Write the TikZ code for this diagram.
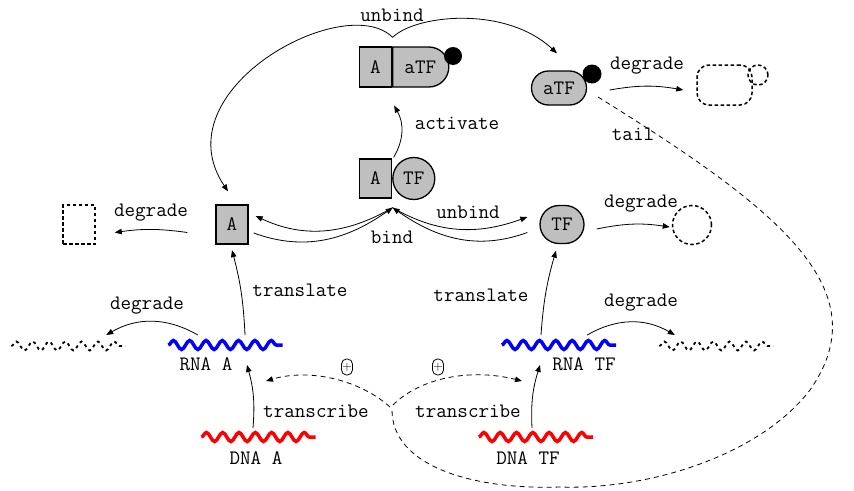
\documentclass[tikz,border=0pt]{standalone}
\usetikzlibrary{shapes.misc,shapes.geometric,decorations.pathmorphing,arrows.meta,calc}
\begin{document}
\begin{tikzpicture}[x=1pt,y=-1pt,
  font={\fontsize{20.5}{24}\selectfont\ttfamily},
  prot/.style={draw,line width=1.3pt,fill=black!25,inner sep=0pt},
  pbox/.style={prot,rectangle,minimum width=32pt,minimum height=40pt},
  rbox/.style={prot,rounded rectangle,minimum width=55pt,minimum height=34pt},
  dotn/.style={circle,fill=black,draw=none,inner sep=0pt,minimum size=19pt},
  deg/.style={draw,dash pattern=on 3.5pt off 2.5pt,line width=1.5pt,inner sep=0pt},
  wave/.style={minimum width=114pt,minimum height=10pt,inner sep=0pt},
  wv/.style={decorate,decoration={snake,segment length=16.3pt,amplitude=4.5pt}},
  rna/.style={wv,draw=blue,line width=3.5pt},
  dna/.style={wv,draw=red,line width=3.5pt},
  drna/.style={wv,draw=black,line width=1.8pt,dash pattern=on 3pt off 3.5pt},
  arr/.style={-{Triangle[length=7pt,width=5.5pt]},line width=0.8pt},
  darr/.style={arr,dash pattern=on 5pt off 4pt},
  plusn/.style={draw,line width=0.8pt,rounded corners=5pt,inner sep=0.5pt,fill=white,
     font={\fontsize{13}{13}\selectfont},minimum width=11pt,minimum height=16pt},
  lbl/.style={inner sep=1pt}]
\useasboundingbox (0,0) rectangle (854,490);

% complexes
\node[pbox] (cA1) at (375.5,67) {A};
\node[rbox,rounded rectangle left arc=none,minimum width=56pt,minimum height=40pt,anchor=west] (caTF) at (cA1.east) {aTF};
\node[dotn,minimum size=18pt] (d1) at (453,56) {};
\node[pbox,minimum height=39pt] (cA2) at (375.5,178.5) {A};
\node[prot,circle,minimum size=42pt,anchor=west] (cTF) at (cA2.east) {TF};

% proteins
\node[pbox,minimum height=39pt] (A) at (232,224.5) {A};
\node[deg,minimum width=32pt,minimum height=39pt] (dA) at (79,224.5) {};
\node[prot,rounded rectangle,minimum width=44pt,minimum height=38pt] (TF) at (562,224.5) {TF};
\node[deg,circle,minimum size=39pt] (dTF) at (692,225) {};
\node[rbox] (aTF) at (559,88) {aTF};
\node[dotn] (d2) at (592,74) {};
\node[deg,rectangle,rounded corners=12pt,minimum width=55pt,minimum height=40pt] (daTF) at (724.5,85) {};
\node[deg,circle,minimum size=20pt] (ddot) at (758,75) {};

% waves
\node[wave] (rnaA) at (225.5,345) {};
\node[wave] (drnaA) at (68.5,346) {};
\node[wave] (rnaTF) at (559,345) {};
\node[wave] (drnaTF) at (716.5,346) {};
\node[wave] (dnaA) at (258.5,437) {};
\node[wave] (dnaTF) at (536,437) {};
\draw[rna] (rnaA.west) -- (rnaA.east);
\draw[rna] (rnaTF.west) -- (rnaTF.east);
\draw[dna] (dnaA.west) -- (dnaA.east);
\draw[dna] (dnaTF.west) -- (dnaTF.east);
\draw[drna] (drnaA.west) -- (drnaA.east);
\draw[drna] (drnaTF.west) -- (drnaTF.east);

\node[lbl] (lrnaA) at (206,364) {RNA A};
\node[lbl] (lrnaTF) at (584,364) {RNA TF};
\node[lbl] (ldnaA) at (256,458) {DNA A};
\node[lbl] (ldnaTF) at (528,458) {DNA TF};

% helper coordinates
\coordinate (v) at ([shift={(0.5,-9)}]cA1.north east);
\coordinate (cx) at ([shift={(0.5,9)}]cA2.south east);
\coordinate (j) at (392,410);

% unbind (top)
\draw[arr] (v) .. controls (345,-10) and (160,90) .. ([shift={(-4,-13)}]A.north);
\draw[arr] (v) .. controls (415,15) and (505,5) .. ([shift={(-2,-17)}]aTF.north);
\node[lbl] (tunb1) at (392,15) {unbind};

% activate
\draw[arr] ([shift={(1.5,-1)}]cA2.north east) to[bend right=30] ([shift={(2,18)}]caTF.south west);
\node[lbl] (tact) at (457,123) {activate};

% aTF degrade
\draw[arr] ([shift={(22.5,2)}]aTF.east) to[bend left=10] ([shift={(-13,5)}]daTF.west);
\node[lbl] (tdeg1) at (647,66) {degrade};
\node[lbl] (ttail) at (633,134) {tail};

% bind / unbind
\draw[arr] (cx) to[out=210,in=-25] ([shift={(7,-8.5)}]A.east);
\draw[arr] ([shift={(5,8.5)}]A.east) to[out=-20,in=215] (cx);
\draw[arr] (cx) to[out=-30,in=200] ([shift={(-12,-7.5)}]TF.west);
\draw[arr] ([shift={(-12,8)}]TF.west) to[out=200,in=-35] (cx);
\node[lbl] (tbind) at (392,237) {bind};
\node[lbl] (tunb2) at (468,212) {unbind};

% protein degrade
\draw[arr] ([shift={(-28,8)}]A.west) to[bend right=8] ([shift={(19,8)}]dA.east);
\node[lbl] (tdeg2) at (151,213) {degrade};
\draw[arr] ([shift={(12,4.5)}]TF.east) to[bend left=10] ([shift={(-2,2)}]dTF.west);
\node[lbl] (tdeg3) at (641,204) {degrade};

% translate
\draw[arr] ([shift={(19.5,-10)}]rnaA.center) to[bend right=6] ([shift={(0,5.5)}]A.south);
\node[lbl] (ttr1) at (300,290) {translate};
\draw[arr] ([shift={(-18,-10)}]rnaTF.center) to[bend left=6] ([shift={(-6,6.5)}]TF.south);
\node[lbl] (ttr2) at (481,295) {translate};

% rna degrade
\draw[arr] ([shift={(29.5,-10)}]rnaA.west) to[bend right=30] ([shift={(-19.5,-11)}]drnaA.east);
\node[lbl] (tdeg4) at (147,306) {degrade};
\draw[arr] ([shift={(-29,-10)}]rnaTF.east) to[bend left=30] ([shift={(15.5,-11)}]drnaTF.west);
\node[lbl] (tdeg5) at (641,303) {degrade};

% transcribe
\draw[arr] ([shift={(-5.5,-9)}]dnaA.center) to[bend right=10] ([shift={(21.5,20)}]rnaA.center);
\node[lbl] (ttc1) at (316,411) {transcribe};
\draw[arr] ([shift={(-4,-9)}]dnaTF.center) to[bend left=10] ([shift={(-19,20)}]rnaTF.center);
\node[lbl] (ttc2) at (468,411) {transcribe};

% tail
\draw[line width=0.8pt,dash pattern=on 5pt off 4pt] ([shift={(39,9)}]aTF.center)
   .. controls (780,210) and (880,290) .. (810,390)
   .. controls (760,455) and (650,490) .. (560,487)
   .. controls (470,490) and (392,465) .. (j);
\draw[darr] ([shift={(-2,-3)}]j) .. controls (360,380) and (310,368) .. ([shift={(40.5,36)}]rnaA.center);
\draw[darr] ([shift={(1,-5)}]j) .. controls (420,378) and (470,368) .. ([shift={(-37,36)}]rnaTF.center);
\node[plusn] (p1) at (347,367) {+};
\node[plusn] (p2) at (438,367) {+};
\end{tikzpicture}
\end{document}
